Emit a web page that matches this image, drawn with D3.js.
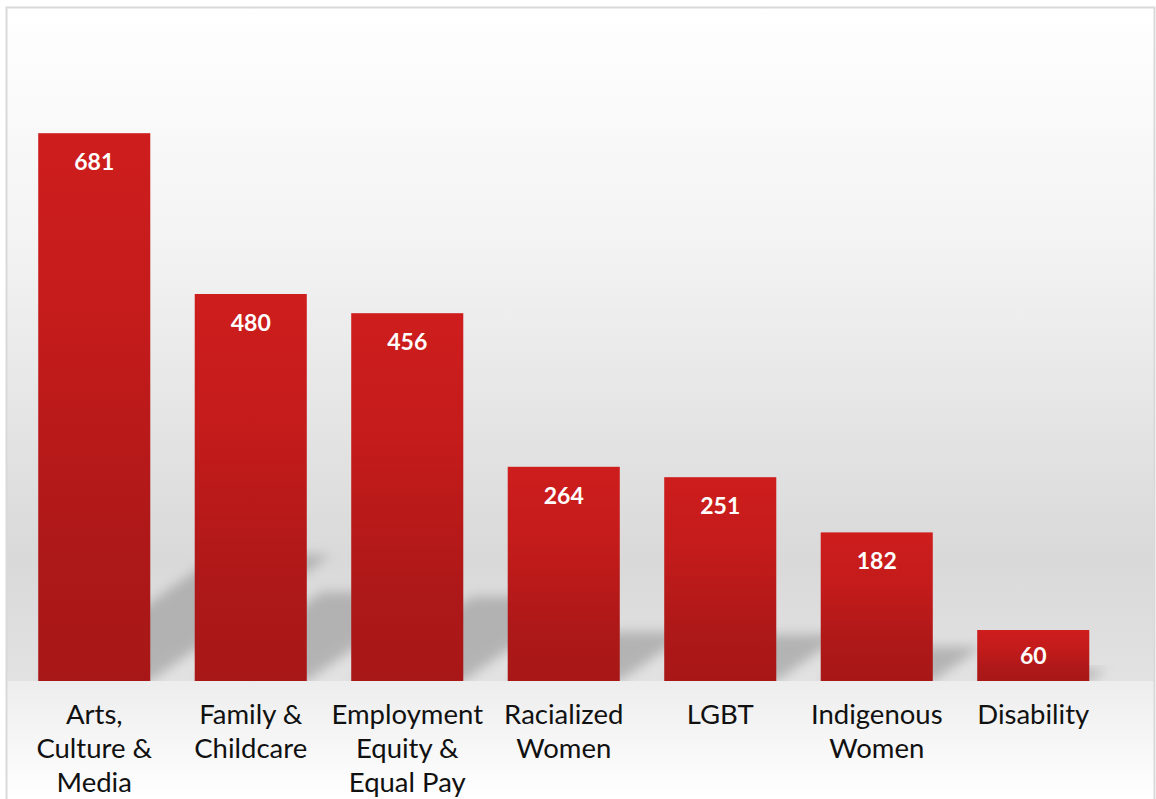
<!DOCTYPE html>
<html>
<head>
<meta charset="utf-8">
<script src="https://cdn.jsdelivr.net/npm/d3@7"></script>
<style>
  html, body { margin: 0; padding: 0; background: #fff; }
  svg { display: block; }
</style>
</head>
<body>
<div id="chart"></div>
<script>
// chart data
var categories = ["Arts,\nCulture &\nMedia", "Family &\nChildcare", "Employment\nEquity &\nEqual Pay",
                  "Racialized\nWomen", "LGBT", "Indigenous\nWomen", "Disability"];
var values = [681, 480, 456, 264, 251, 182, 60];

var W = 1156, H = 799;
var floorY = 681;   // where the wall meets the floor

var svg = d3.select("#chart")
    .append("svg")
    .attr("width", W)
    .attr("height", H);

var defs = svg.append("defs");

// back wall gradient
var wall = defs.append("linearGradient")
    .attr("id", "wall").attr("x1", 0).attr("y1", 0).attr("x2", 0).attr("y2", 1);
wall.append("stop").attr("offset", "0").attr("stop-color", "#ffffff");
wall.append("stop").attr("offset", "0.35").attr("stop-color", "#f3f3f3");
wall.append("stop").attr("offset", "0.82").attr("stop-color", "#d9d9d9");
wall.append("stop").attr("offset", "1").attr("stop-color", "#e2e2e2");

// floor gradient
var floor = defs.append("linearGradient")
    .attr("id", "floor").attr("x1", 0).attr("y1", 0).attr("x2", 0).attr("y2", 1);
floor.append("stop").attr("offset", "0").attr("stop-color", "#ededed");
floor.append("stop").attr("offset", "1").attr("stop-color", "#ffffff");

// bar gradient
var barGrad = defs.append("linearGradient")
    .attr("id", "barGrad").attr("x1", 0).attr("y1", 0).attr("x2", 0).attr("y2", 1);
barGrad.append("stop").attr("offset", "0").attr("stop-color", "#ce1d1d");
barGrad.append("stop").attr("offset", "0.35").attr("stop-color", "#c41b1b");
barGrad.append("stop").attr("offset", "0.75").attr("stop-color", "#ae1818");
barGrad.append("stop").attr("offset", "1").attr("stop-color", "#a81717");

defs.append("filter")
    .attr("id", "blur")
    .attr("x", "-30%").attr("y", "-30%").attr("width", "160%").attr("height", "160%")
    .append("feGaussianBlur")
    .attr("stdDeviation", 6);

defs.append("clipPath").attr("id", "wallClip")
    .append("rect")
    .attr("x", 7).attr("y", 8).attr("width", W - 8).attr("height", floorY - 8);

// background
svg.append("rect")
    .attr("x", 7).attr("y", 8).attr("width", W - 8).attr("height", floorY - 8)
    .attr("fill", "url(#wall)");
svg.append("rect")
    .attr("x", 7).attr("y", floorY).attr("width", W - 8).attr("height", H - floorY)
    .attr("fill", "url(#floor)");

// frame
svg.append("rect")
    .attr("x", 6.5).attr("y", 7.5).attr("width", W - 8).attr("height", H + 20)
    .attr("fill", "none")
    .attr("stroke", "#d9d9d9")
    .attr("stroke-width", 2);

// scales
var x = d3.scaleBand()
    .domain(categories)
    .range([16, 1111.5])
    .paddingInner(0.284)
    .paddingOuter(0.142);

var y = d3.scaleLinear()
    .domain([0, 800])
    .range([678, 38]);

// shadows cast up and to the right
var slope = 0.7, shadowFactor = 0.23;
svg.append("g")
    .attr("clip-path", "url(#wallClip)")
    .selectAll("path")
    .data(values)
    .enter().append("path")
    .attr("d", function (d, i) {
        var x0 = x(categories[i]), x1 = x0 + x.bandwidth();
        var h = (floorY - y(d)) * shadowFactor;
        var dx = h / slope;
        var p = d3.path();
        p.moveTo(x0, floorY);
        p.lineTo(x1, floorY);
        p.lineTo(x1 + dx, floorY - h);
        p.lineTo(x0 + dx, floorY - h);
        p.closePath();
        return p.toString();
    })
    .attr("fill", "#8f8f8f")
    .attr("opacity", 0.55)
    .attr("filter", "url(#blur)");

// bars
svg.append("g")
    .selectAll("rect")
    .data(values)
    .enter().append("rect")
    .attr("x", function (d, i) { return x(categories[i]); })
    .attr("y", function (d) { return y(d); })
    .attr("width", x.bandwidth())
    .attr("height", function (d) { return floorY - y(d); })
    .attr("fill", "url(#barGrad)");

// value labels
svg.append("g")
    .selectAll("text")
    .data(values)
    .enter().append("text")
    .attr("x", function (d, i) { return x(categories[i]) + x.bandwidth() / 2; })
    .attr("y", function (d) { return Math.min(y(d) + 37, (y(d) + floorY) / 2 + 8); })
    .attr("text-anchor", "middle")
    .attr("font-family", "Lato, 'Open Sans', sans-serif")
    .attr("font-weight", "bold")
    .attr("font-size", "23px")
    .attr("fill", "#ffffff")
    .text(function (d) { return d; });

// category labels
var labels = svg.append("g")
    .selectAll("text")
    .data(categories)
    .enter().append("text")
    .attr("x", function (d) { return x(d) + x.bandwidth() / 2; })
    .attr("y", 724)
    .attr("text-anchor", "middle")
    .attr("font-family", "Lato, 'Open Sans', sans-serif")
    .attr("font-size", "27.5px")
    .attr("fill", "#111111");

labels.each(function (d) {
    var t = d3.select(this);
    d.split("\n").forEach(function (line, j) {
        t.append("tspan")
            .attr("x", t.attr("x"))
            .attr("y", 724 + j * 34)
            .text(line);
    });
});
</script>
</body>
</html>
